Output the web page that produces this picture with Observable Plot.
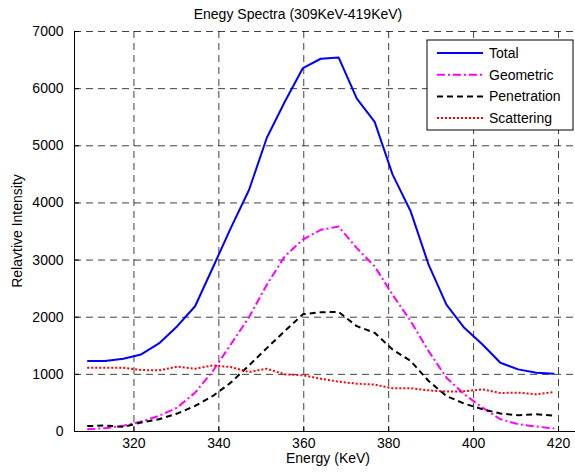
<!DOCTYPE html>
<html>
<head>
<meta charset="utf-8">
<script src="https://cdn.jsdelivr.net/npm/d3@7"></script>
<script src="https://cdn.jsdelivr.net/npm/@observablehq/plot@0.6"></script>
<style>
  html, body { margin: 0; padding: 0; background: #fff; }
  #chart { width: 575px; height: 473px; }
</style>
</head>
<body>
<div id="chart"></div>
<script>
const energy = [309, 313.2, 317.5, 321.7, 325.9, 330.2, 334.4, 338.6, 342.8, 347.1, 351.3, 355.5, 359.8, 364, 368.2, 372.5, 376.7, 380.9, 385.2, 389.4, 393.6, 397.8, 402.1, 406.3, 410.5, 414.8, 419];
const total = [1233, 1233, 1273, 1349, 1541, 1843, 2192, 2870, 3560, 4227, 5140, 5767, 6360, 6523, 6547, 5826, 5419, 4500, 3849, 2919, 2221, 1814, 1523, 1203, 1087, 1029, 1012];
const geometric = [40, 58, 99, 174, 273, 419, 680, 1058, 1523, 2000, 2570, 3064, 3360, 3529, 3587, 3209, 2890, 2395, 1930, 1407, 942, 651, 419, 215, 128, 87, 52];
const penetration = [95, 105, 81, 157, 215, 314, 448, 622, 855, 1157, 1459, 1756, 2050, 2087, 2093, 1843, 1727, 1436, 1233, 884, 622, 488, 390, 315, 285, 300, 276];
const scattering = [1116, 1116, 1116, 1076, 1070, 1134, 1099, 1157, 1128, 1041, 1099, 1000, 983, 924, 872, 837, 820, 756, 756, 721, 698, 703, 738, 674, 680, 651, 692];
const seriesNames = ["Total", "Geometric", "Penetration", "Scattering"];
const xTicks = [320, 340, 360, 380, 400, 420];
const yTicks = [0, 1000, 2000, 3000, 4000, 5000, 6000, 7000];
const xDomain = [306, 424];
const yDomain = [0, 7000];
const titleText = "Enegy Spectra (309KeV-419KeV)";
const xLabel = "Energy (KeV)";
const yLabel = "Relavtive Intensity";

const seriesValues = [total, geometric, penetration, scattering];
const styles = {
  Total: {stroke: "#0000ff", dash: null},
  Geometric: {stroke: "#ff00ff", dash: "8,3,2,3"},
  Penetration: {stroke: "#000000", dash: "6,4"},
  Scattering: {stroke: "#ff0000", dash: "2,2"}
};

const rows = [];
seriesNames.forEach((name, i) => {
  energy.forEach((e, j) => rows.push({series: name, energy: e, value: seriesValues[i][j]}));
});

const font = "'Liberation Sans', Arial, Helvetica, sans-serif";
const gridStyle = {stroke: "#000", strokeOpacity: 0.75, strokeDasharray: "7,5", strokeWidth: 1};

const lineMarks = seriesNames.map(name => Plot.line(rows.filter(r => r.series === name), {
  x: "energy", y: "value", stroke: styles[name].stroke, strokeWidth: 2,
  strokeDasharray: styles[name].dash, strokeLinejoin: "round", strokeLinecap: "butt"
}));

const svg = Plot.plot({
  width: 575,
  height: 473,
  marginTop: 31,
  marginBottom: 42,
  marginLeft: 74,
  marginRight: 0,
  style: {fontFamily: font, fontSize: "14px", background: "#fff", color: "#000", overflow: "visible"},
  x: {domain: xDomain, ticks: xTicks},
  y: {domain: yDomain, ticks: yTicks},
  marks: [
    Plot.gridX(xTicks, gridStyle),
    Plot.gridY(yTicks, gridStyle),
    ...lineMarks,
    Plot.ruleY([yDomain[0]], {stroke: "#000", strokeWidth: 1}),
    Plot.ruleX([xDomain[0]], {stroke: "#000", strokeWidth: 1}),
    Plot.axisX(xTicks, {tickSize: -5, tickPadding: 12, label: null, tickFormat: d => String(d)}),
    Plot.axisY(yTicks, {tickSize: -5, tickPadding: 16, label: null, tickFormat: d => String(d)})
  ]
});

const sel = d3.select(svg);
sel.append("text").attr("x", 298).attr("y", 19).attr("text-anchor", "middle")
  .attr("font-family", font).attr("font-size", 14).attr("fill", "#000").text(titleText);
sel.append("text").attr("x", 328).attr("y", 463).attr("text-anchor", "middle")
  .attr("font-family", font).attr("font-size", 14).attr("fill", "#000").text(xLabel);
sel.append("text").attr("transform", "translate(22,231) rotate(-90)").attr("text-anchor", "middle")
  .attr("font-family", font).attr("font-size", 14).attr("fill", "#000").text(yLabel);

const lg = sel.append("g");
lg.append("rect").attr("x", 427).attr("y", 40).attr("width", 146).attr("height", 90)
  .attr("fill", "#fff").attr("stroke", "#000").attr("stroke-width", 1);
seriesNames.forEach((name, i) => {
  const cy = 53 + i * 21.7;
  lg.append("line").attr("x1", 437).attr("x2", 483).attr("y1", cy).attr("y2", cy)
    .attr("stroke", styles[name].stroke).attr("stroke-width", 2)
    .attr("stroke-dasharray", styles[name].dash);
  lg.append("text").attr("x", 489).attr("y", cy + 5).attr("text-anchor", "start")
    .attr("font-family", font).attr("font-size", 14).attr("fill", "#000").text(name);
});

document.getElementById("chart").appendChild(svg);
</script>
</body>
</html>
